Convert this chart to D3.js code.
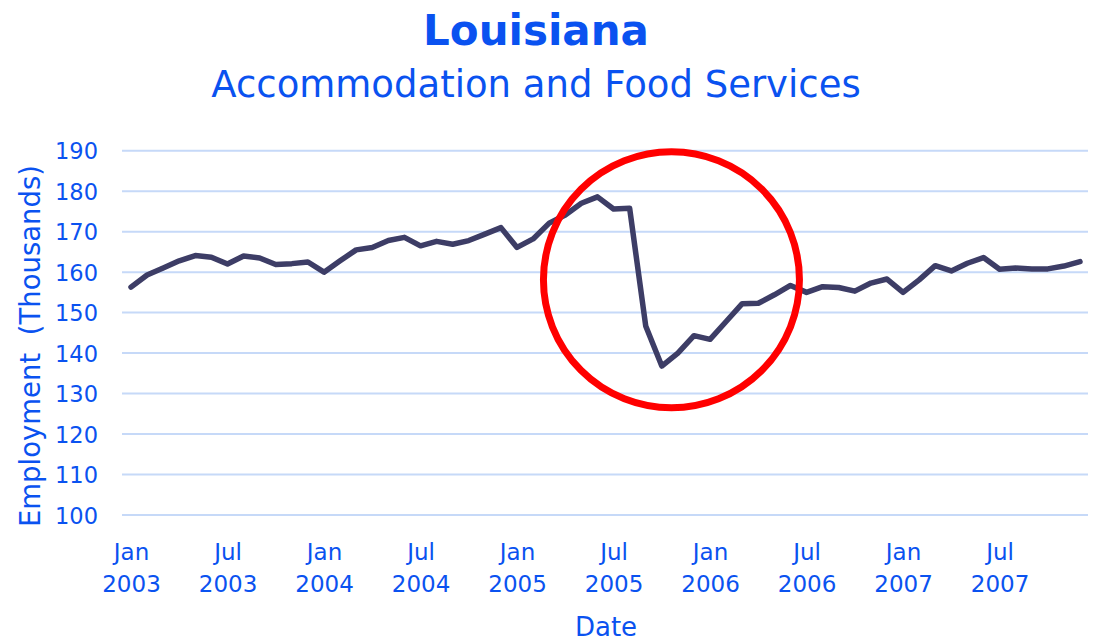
<!DOCTYPE html>
<html>
<head>
<meta charset="utf-8">
<script src="https://cdn.jsdelivr.net/npm/d3@7"></script>
<style>
  html, body { margin: 0; padding: 0; background: #ffffff; }
  svg { display: block; }
  text { font-family: "DejaVu Sans", Verdana, sans-serif; }
</style>
</head>
<body>
<svg id="chart" width="1095" height="641"></svg>
<script>
// ---- Data ----
const months = ["Jan","Feb","Mar","Apr","May","Jun","Jul","Aug","Sep","Oct","Nov","Dec"];
const years = [2003, 2004, 2005, 2006, 2007];
const categories = years.flatMap(y => months.map(m => m + " " + y));
const employment = [
  156.3, 159.3, 161.0, 162.8, 164.1, 163.7, 162.0, 164.0, 163.5, 161.9, 162.1, 162.5,
  160.0, 162.8, 165.5, 166.1, 167.8, 168.6, 166.5, 167.6, 166.9, 167.8, 169.4, 171.0,
  166.1, 168.2, 172.1, 174.1, 177.0, 178.6, 175.6, 175.8, 146.7, 136.8, 140.0, 144.3,
  143.4, 147.8, 152.2, 152.3, 154.4, 156.7, 155.0, 156.4, 156.2, 155.3, 157.3, 158.3,
  155.0, 158.1, 161.6, 160.3, 162.2, 163.6, 160.7, 161.0, 160.8, 160.8, 161.5, 162.6
];
const yTicks = [100, 110, 120, 130, 140, 150, 160, 170, 180, 190];
const xTickLabels = categories.filter((c, i) => i % 6 === 0);
// annotation circle: centred between Oct and Nov 2005, around 158 thousand
const circleCenterIndex = 33.6;
const circleCenterValue = 158.1;

const titleText = "Louisiana";
const subtitleText = "Accommodation and Food Services";
const yLabel = "Employment\u00a0 (Thousands)";
const xLabel = "Date";

// ---- Drawing ----
const blue = "#0a52f0";
const svg = d3.select("#chart");

const x = d3.scalePoint().domain(categories).range([131, 1080]);
const y = d3.scaleLinear().domain([100, 190]).range([515, 150.7]);

// gridlines
svg.append("g")
  .selectAll("line")
  .data(yTicks)
  .join("line")
  .attr("x1", 122).attr("x2", 1088)
  .attr("y1", d => y(d)).attr("y2", d => y(d))
  .attr("stroke", "#c6d9f8").attr("stroke-width", 2);

// y axis labels
const yAxis = d3.axisLeft(y).tickValues(yTicks).tickSize(0).tickPadding(0);
const gy = svg.append("g").attr("transform", "translate(98,0)").call(yAxis);
gy.select(".domain").remove();
gy.selectAll("text")
  .attr("fill", blue)
  .style("font-size", "22.5px")
  .style("font-family", "'DejaVu Sans', sans-serif")
  .attr("dy", "0.36em");

// x axis labels (two-line)
const xAxis = d3.axisBottom(x).tickValues(xTickLabels).tickSize(0).tickFormat("");
const gx = svg.append("g").attr("transform", "translate(0,530)").call(xAxis);
gx.select(".domain").remove();
gx.selectAll(".tick text").each(function(d) {
  const parts = d.split(" ");
  const t = d3.select(this)
    .attr("fill", blue)
    .attr("y", 0)
    .attr("dy", 0)
    .style("font-size", "23px")
    .style("font-family", "'DejaVu Sans', sans-serif")
    .attr("text-anchor", "middle");
  t.text(null);
  t.append("tspan").attr("x", 0).attr("y", 30).text(parts[0]);
  t.append("tspan").attr("x", 0).attr("y", 61.5).text(parts[1]);
});

// line
const line = d3.line()
  .x((d, i) => x(categories[i]))
  .y(d => y(d));
svg.append("path")
  .datum(employment)
  .attr("d", line)
  .attr("fill", "none")
  .attr("stroke", "#3d3d66")
  .attr("stroke-width", 5.5)
  .attr("stroke-linejoin", "round")
  .attr("stroke-linecap", "round");

// red annotation circle
const step = x.step();
svg.append("circle")
  .attr("cx", x(categories[0]) + circleCenterIndex * step)
  .attr("cy", y(circleCenterValue))
  .attr("r", 128)
  .attr("fill", "none")
  .attr("stroke", "#ff0000")
  .attr("stroke-width", 7);

// titles
svg.append("text")
  .attr("x", 536).attr("y", 45)
  .attr("text-anchor", "middle")
  .attr("fill", blue)
  .style("font-size", "42px")
  .style("font-weight", "bold")
  .text(titleText);

svg.append("text")
  .attr("x", 536).attr("y", 97)
  .attr("text-anchor", "middle")
  .attr("fill", blue)
  .style("font-size", "37px")
  .text(subtitleText);

// axis titles
svg.append("text")
  .attr("transform", "translate(40,346) rotate(-90)")
  .attr("text-anchor", "middle")
  .attr("fill", blue)
  .style("font-size", "27.5px")
  .text(yLabel);

svg.append("text")
  .attr("x", 606).attr("y", 636)
  .attr("text-anchor", "middle")
  .attr("fill", blue)
  .style("font-size", "26px")
  .text(xLabel);
</script>
</body>
</html>
